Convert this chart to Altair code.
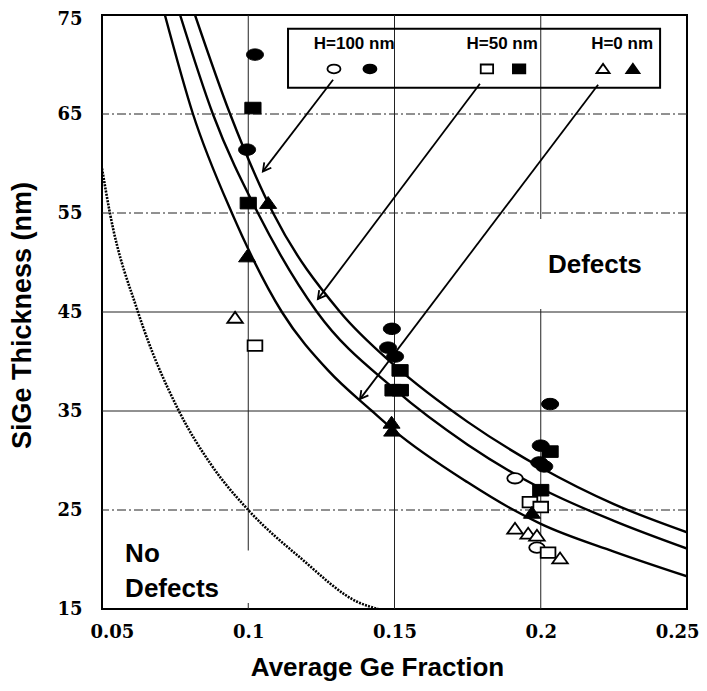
import math
import altair as alt
import pandas as pd

# ---------------- data ----------------
# solid model curves (three cap-layer heights)
upper_x = [0.0818, 0.0938, 0.1085, 0.1314, 0.150, 0.175, 0.200, 0.225, 0.250]
upper_y = [75.0, 65.0, 55.0, 45.0, 39.6, 33.9, 29.3, 25.6, 22.75]
middle_x = [0.0767, 0.0879, 0.1033, 0.1235, 0.150, 0.175, 0.200, 0.225, 0.250]
middle_y = [75.0, 65.0, 55.0, 45.0, 37.2, 31.6, 27.2, 23.9, 21.1]
lower_x = [0.0715, 0.0811, 0.0944, 0.1115, 0.1273, 0.1423, 0.150, 0.175, 0.1895, 0.200, 0.225, 0.250]
lower_y = [75.0, 65.0, 55.0, 45.0, 39.1, 35.0, 33.0, 27.8, 25.2, 23.6, 20.8, 18.3]
# dotted curve
dotted_x = [0.0500, 0.0527, 0.0623, 0.0763, 0.0875, 0.1000, 0.1177, 0.1382, 0.1444]
dotted_y = [59.5, 55.0, 45.0, 35.0, 29.5, 25.0, 20.2, 15.6, 15.0]

# measured points
h100_open_x = [0.1912, 0.1987]
h100_open_y = [28.2, 21.2]
h100_fill_x = [0.1023, 0.0996, 0.1491, 0.1478, 0.1502, 0.2032, 0.2000, 0.1995, 0.2012]
h100_fill_y = [71.0, 61.4, 43.3, 41.4, 40.5, 35.7, 31.5, 29.8, 29.4]
h50_open_x = [0.1023, 0.1963, 0.2000, 0.2025]
h50_open_y = [41.6, 25.8, 25.3, 20.7]
h50_fill_x = [0.1016, 0.1000, 0.1519, 0.1495, 0.1520, 0.2032, 0.2000]
h50_fill_y = [65.6, 56.0, 39.1, 37.1, 37.1, 30.9, 27.0]
h0_open_x = [0.0955, 0.1912, 0.1957, 0.1987, 0.2066]
h0_open_y = [44.4, 23.1, 22.6, 22.4, 20.1]
h0_fill_x = [0.1068, 0.0996, 0.1490, 0.1492, 0.1970]
h0_fill_y = [56.0, 50.6, 33.8, 33.0, 24.7]

# grid
grid_x = [0.10, 0.15, 0.20]
grid_y = [25, 35, 45, 55, 65]
grid_y_style = ["dashdot", "solid", "solid", "dashdot", "dashdot"]

# axis ticks
x_ticks = [0.05, 0.10, 0.15, 0.20, 0.25]
y_ticks = [15, 25, 35, 45, 55, 65, 75]

# legend (inside plot, data units)
legend_box = {"x1": 0.1136, "x2": 0.2408, "y1": 73.6, "y2": 67.65}
legend_labels = ["H=100 nm", "H=50 nm", "H=0 nm"]
legend_label_x = [0.1362, 0.1868, 0.2278]
legend_label_y = [72.1, 72.1, 72.1]
legend_sym_kind = ["circle", "circle", "square", "square", "triangle", "triangle"]
legend_sym_fill = ["open", "filled", "open", "filled", "open", "filled"]
legend_sym_x = [0.1293, 0.1416, 0.1816, 0.1926, 0.2213, 0.2315]
legend_sym_y = [69.55, 69.55, 69.55, 69.55, 69.55, 69.55]

# arrows from legend to curves
arrow_x1 = [0.1290, 0.1792, 0.2196]
arrow_y1 = [68.46, 68.05, 67.95]
arrow_x2 = [0.1050, 0.1238, 0.1382]
arrow_y2 = [59.2, 46.3, 36.2]

# region labels
region_text = ["Defects", "No", "Defects"]
region_x = [0.2185, 0.0579, 0.0579]
region_y = [48.9, 19.7, 16.2]
region_align = ["center", "left", "left"]
# white patches behind the region labels
patch_x1 = [0.1960, 0.0560]
patch_x2 = [0.2400, 0.1050]
patch_y1 = [54.4, 20.9]
patch_y2 = [45.3, 15.6]

# ---------------- chart ----------------
W, H = 585, 594
XDOM, YDOM = [0.05, 0.25], [15, 75]

xs = alt.Scale(domain=XDOM, nice=False, zero=False)
ys = alt.Scale(domain=YDOM, nice=False, zero=False)

xax = alt.Axis(values=x_ticks, format="~g", title="Average Ge Fraction", grid=False,
               ticks=False, domain=False, labelFlush=True, labelFlushOffset=12,
               labelOverlap=False,
               labelFont="DejaVu Serif", labelFontWeight="bold", labelFontSize=18,
               labelColor="black", labelPadding=14,
               titleFont="Liberation Sans", titleFontSize=26, titleFontWeight="bold",
               titleColor="black", titleX=275, titleY=66, titleAlign="center",
               titleBaseline="alphabetic")
yax = alt.Axis(values=y_ticks, title="SiGe Thickness (nm)", grid=False,
               ticks=False, domain=False, labelOverlap=False,
               labelOffset={"expr": "datum.value == 75 ? 4 : 0"},
               labelFont="DejaVu Serif", labelFontWeight="bold", labelFontSize=18,
               labelColor="black", labelPadding=20,
               titleFont="Liberation Sans", titleFontSize=27, titleFontWeight="bold",
               titleColor="black", titleX=-80, titleY=300, titleAngle=270,
               titleAlign="center", titleBaseline="middle")


def X(f="x"):
    return alt.X(f, type="quantitative", scale=xs, axis=xax)


def Y(f="y"):
    return alt.Y(f, type="quantitative", scale=ys, axis=yax)


# grid rules
gx_df = pd.DataFrame({"x": grid_x})
gy_df = pd.DataFrame({"y": grid_y, "style": grid_y_style})
dash_scale = alt.Scale(domain=["solid", "dashdot"], range=[[1, 0], [9, 3, 2, 3]])
vgrid = alt.Chart(gx_df).mark_rule(color="#222", strokeWidth=1).encode(x=X())
hgrid = alt.Chart(gy_df).mark_rule(color="#222", strokeWidth=1).encode(
    y=Y(), strokeDash=alt.StrokeDash("style:N", scale=dash_scale, legend=None))

# white patches
patch_df = pd.DataFrame({"x": patch_x1, "x2": patch_x2, "y": patch_y1, "y2": patch_y2})
patches = alt.Chart(patch_df).mark_rect(fill="white").encode(
    x=X(), x2="x2", y=Y(), y2="y2")

# curves
curve_df = pd.concat([
    pd.DataFrame({"x": upper_x, "y": upper_y, "c": "upper"}),
    pd.DataFrame({"x": middle_x, "y": middle_y, "c": "middle"}),
    pd.DataFrame({"x": lower_x, "y": lower_y, "c": "lower"}),
])
curves = alt.Chart(curve_df).mark_line(color="black", strokeWidth=2.4,
                                        interpolate="monotone", clip=True).encode(
    x=X(), y=Y(), detail="c:N")
dot_df = pd.DataFrame({"x": dotted_x, "y": dotted_y})
dotted = alt.Chart(dot_df).mark_line(color="black", strokeWidth=2.6, strokeDash=[2, 1.2],
                                     interpolate="monotone", clip=True).encode(x=X(), y=Y())

# arrows
arr_df = pd.DataFrame({"x": arrow_x1, "y": arrow_y1, "x2": arrow_x2, "y2": arrow_y2})
px_per_x = W / (XDOM[1] - XDOM[0])
px_per_y = H / (YDOM[1] - YDOM[0])
arr_df["ang"] = [
    (math.degrees(math.atan2((b - a) * px_per_x, (d - c) * px_per_y)) + 360) % 360
    for a, b, c, d in zip(arrow_x1, arrow_x2, arrow_y1, arrow_y2)
]
arr_lines = alt.Chart(arr_df).mark_rule(color="black", strokeWidth=1.8).encode(
    x=X(), y=Y(), x2="x2", y2="y2")
head_path = "M -0.55 1 L 0 0 L 0.55 1"
arr_heads = alt.Chart(arr_df).mark_point(shape=head_path, filled=False, color="black",
                                         strokeWidth=1.8, size=260, opacity=1).encode(
    x=X("x2"), y=Y("y2"), angle=alt.Angle("ang:Q", scale=None))

# markers
k = 0.5523
ell = ("M -1 0 C -1 -{a} -{b} -0.67 0 -0.67 C {b} -0.67 1 -{a} 1 0 "
       "C 1 {a} {b} 0.67 0 0.67 C -{b} 0.67 -1 {a} -1 0 Z").format(a=round(k * 0.67, 3), b=k)
rect = "M -0.95 -0.68 L 0.95 -0.68 L 0.95 0.68 L -0.95 0.68 Z"
tri = "M -1 0.62 L 0 -0.78 L 1 0.62 Z"
shape_scale = alt.Scale(domain=["circle", "square", "triangle"], range=[ell, rect, tri])
fill_scale = alt.Scale(domain=["open", "filled"], range=["white", "black"])

rows = []
for xs_, ys_, kind, fl in [
    (h100_open_x, h100_open_y, "circle", "open"),
    (h100_fill_x, h100_fill_y, "circle", "filled"),
    (h50_open_x, h50_open_y, "square", "open"),
    (h50_fill_x, h50_fill_y, "square", "filled"),
    (h0_open_x, h0_open_y, "triangle", "open"),
    (h0_fill_x, h0_fill_y, "triangle", "filled"),
]:
    for a, b in zip(xs_, ys_):
        rows.append({"x": a, "y": b, "kind": kind, "fill": fl})
pts_df = pd.DataFrame(rows)

pts_open = alt.Chart(pts_df[pts_df.fill == "open"]).mark_point(
    filled=True, stroke="black", strokeWidth=1.8, size=240, opacity=1).encode(
    x=X(), y=Y(), shape=alt.Shape("kind:N", scale=shape_scale, legend=None),
    fill=alt.Fill("fill:N", scale=fill_scale, legend=None))
pts_fill = alt.Chart(pts_df[pts_df.fill == "filled"]).mark_point(
    filled=True, stroke="black", strokeWidth=1, size=290, opacity=1).encode(
    x=X(), y=Y(), shape=alt.Shape("kind:N", scale=shape_scale, legend=None),
    fill=alt.Fill("fill:N", scale=fill_scale, legend=None))

# legend
lb_df = pd.DataFrame([{"x": legend_box["x1"], "x2": legend_box["x2"],
                       "y": legend_box["y1"], "y2": legend_box["y2"]}])
lbox = alt.Chart(lb_df).mark_rect(fill="white", fillOpacity=0.0, stroke="black",
                                  strokeWidth=2).encode(x=X(), x2="x2", y=Y(), y2="y2")
lt_df = pd.DataFrame({"x": legend_label_x, "y": legend_label_y, "t": legend_labels})
ltext = alt.Chart(lt_df).mark_text(font="Liberation Sans", fontWeight="bold", fontSize=17,
                                   color="black", align="center", baseline="middle").encode(
    x=X(), y=Y(), text="t:N")
ls_df = pd.DataFrame({"x": legend_sym_x, "y": legend_sym_y, "kind": legend_sym_kind,
                      "fill": legend_sym_fill})
lsym = alt.Chart(ls_df).mark_point(filled=True, stroke="black", strokeWidth=1.8, size=170,
                                   opacity=1).encode(
    x=X(), y=Y(), shape=alt.Shape("kind:N", scale=shape_scale, legend=None),
    fill=alt.Fill("fill:N", scale=fill_scale, legend=None))

# region labels
rt_df = pd.DataFrame({"x": region_x, "y": region_y, "t": region_text, "al": region_align})
rtext_c = alt.Chart(rt_df[rt_df.al == "center"]).mark_text(
    font="Liberation Sans", fontWeight="bold", fontSize=26, color="black",
    align="center", baseline="alphabetic").encode(x=X(), y=Y(), text="t:N")
rtext_l = alt.Chart(rt_df[rt_df.al == "left"]).mark_text(
    font="Liberation Sans", fontWeight="bold", fontSize=26, color="black",
    align="left", baseline="alphabetic").encode(x=X(), y=Y(), text="t:N")

chart = alt.layer(
    vgrid, hgrid, patches, dotted, curves, arr_lines, arr_heads,
    pts_open, pts_fill, lbox, ltext, lsym, rtext_c, rtext_l,
).properties(
    width=W, height=H,
    autosize=alt.AutoSizeParams(type="none"),
    padding={"left": 94, "top": 7, "right": 12, "bottom": 72},
    background="white",
).configure_view(stroke="black", strokeWidth=2)

chart.save("out.html", embed_options={"renderer": "svg", "actions": False})
